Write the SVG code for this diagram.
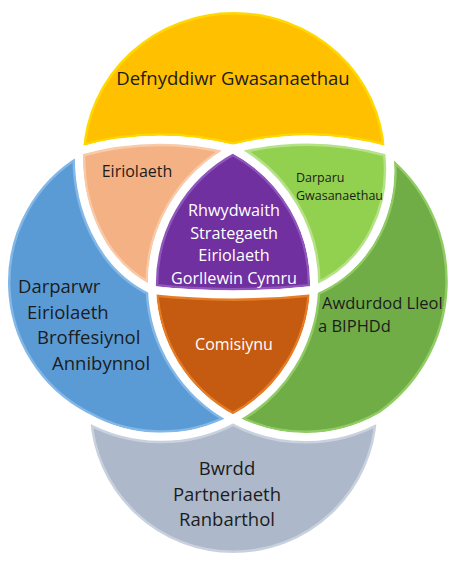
<svg xmlns="http://www.w3.org/2000/svg" width="452" height="563" viewBox="0 0 452 563">
<style>
.gap{fill:none;stroke:#fff;stroke-width:8;stroke-linejoin:round}
.rim{fill:none;stroke-width:13;opacity:0.75}
text{font-family:"Open Sans","Noto Sans",sans-serif}
.dk{fill:#1c1c1c}
.wt{fill:#ffffff}
</style>
<defs>
<path id="pY" d="M79,151 A155,151 0 0 1 234,8 A155,151 0 0 1 389,151 A300,300 0 0 0 233,149 A300,300 0 0 0 79,151 Z"/>
<path id="pPe" d="M79,151 A300,300 0 0 1 233,149 A153,153 0 0 0 152,290 C100,265 77,205 79,151 Z"/>
<path id="pLg" d="M389,151 A300,300 0 0 0 233,149 A153,153 0 0 1 314,290 C372,265 396,205 389,151 Z"/>
<path id="pPu" d="M233,149 A153,153 0 0 0 152,290 A750,750 0 0 0 314,290 A153,153 0 0 0 233,149 Z"/>
<path id="pOr" d="M152,290 A153,153 0 0 0 233,419 A153,153 0 0 0 314,290 A750,750 0 0 1 152,290 Z"/>
<path id="pBl" d="M79,151 C77,205 100,265 152,290 A153,153 0 0 0 233,419 A153,153 0 0 1 86,417 A152,152 0 0 1 79,151 Z"/>
<path id="pGr" d="M389,151 C396,205 372,265 314,290 A153,153 0 0 1 233,419 A153,153 0 0 0 381,417 A166,166 0 0 0 389,151 Z"/>
<path id="pGy" d="M86,417 A153,153 0 0 0 233,419 A153,153 0 0 0 381,417 A147.7,147.7 0 0 1 233.5,557 A147.7,147.7 0 0 1 86,417 Z"/>
<clipPath id="cY"><use href="#pY"/></clipPath>
<clipPath id="cPe"><use href="#pPe"/></clipPath>
<clipPath id="cLg"><use href="#pLg"/></clipPath>
<clipPath id="cPu"><use href="#pPu"/></clipPath>
<clipPath id="cOr"><use href="#pOr"/></clipPath>
<clipPath id="cBl"><use href="#pBl"/></clipPath>
<clipPath id="cGr"><use href="#pGr"/></clipPath>
<clipPath id="cGy"><use href="#pGy"/></clipPath>
</defs>

<g id="yellow">
<use href="#pY" fill="#FFC000"/>
<use href="#pY" class="rim" stroke="#FFE000" clip-path="url(#cY)"/>
<use href="#pY" class="gap"/>
<text class="dk" x="233" y="85" font-size="18.5" text-anchor="middle">Defnyddiwr Gwasanaethau</text>
</g>

<g id="peach">
<use href="#pPe" fill="#F4B183"/>
<use href="#pPe" class="rim" stroke="#FAD3B4" clip-path="url(#cPe)"/>
<use href="#pPe" class="gap"/>
<text class="dk" x="137" y="177" font-size="16" text-anchor="middle">Eiriolaeth</text>
</g>

<g id="purple">
<use href="#pPu" fill="#7030A0"/>
<use href="#pPu" class="rim" stroke="#9A63C4" clip-path="url(#cPu)"/>
<use href="#pPu" class="gap"/>
<text class="wt" font-size="16.2" text-anchor="middle"><tspan x="234" y="216">Rhwydwaith</tspan><tspan x="234" y="238.5">Strategaeth</tspan><tspan x="234" y="261">Eiriolaeth</tspan><tspan x="234" y="283.5">Gorllewin Cymru</tspan></text>
</g>

<g id="orange">
<use href="#pOr" fill="#C55A11"/>
<use href="#pOr" class="rim" stroke="#F08A2E" clip-path="url(#cOr)"/>
<use href="#pOr" class="gap"/>
<text class="wt" x="234" y="350" font-size="16" text-anchor="middle">Comisiynu</text>
</g>

<g id="blue">
<use href="#pBl" fill="#5B9BD5"/>
<use href="#pBl" class="rim" stroke="#8FC0EC" clip-path="url(#cBl)"/>
<use href="#pBl" class="gap"/>
<text class="dk" font-size="18.5"><tspan x="18" y="293">Darparwr</tspan><tspan x="27" y="319">Eiriolaeth</tspan><tspan x="37" y="344">Broffesiynol</tspan><tspan x="52" y="370">Annibynnol</tspan></text>
</g>

<g id="green">
<use href="#pGr" fill="#70AD47"/>
<use href="#pGr" class="rim" stroke="#9CD66E" clip-path="url(#cGr)"/>
<use href="#pGr" class="gap"/>
<text class="dk" font-size="16.5"><tspan x="322" y="309">Awdurdod Lleol</tspan><tspan x="318" y="332">a BIPHDd</tspan></text>
</g>

<g id="lightgreen">
<use href="#pLg" fill="#92D050"/>
<use href="#pLg" class="rim" stroke="#C2E89A" clip-path="url(#cLg)"/>
<use href="#pLg" class="gap"/>
<text class="dk" font-size="12.5"><tspan x="296" y="182">Darparu</tspan><tspan x="296" y="200">Gwasanaethau</tspan></text>
</g>

<g id="grey">
<use href="#pGy" fill="#ADB9CA"/>
<use href="#pGy" class="rim" stroke="#D3DAE4" clip-path="url(#cGy)"/>
<use href="#pGy" class="gap"/>
<text class="dk" font-size="18.5" text-anchor="middle"><tspan x="227" y="475">Bwrdd</tspan><tspan x="227" y="500.5">Partneriaeth</tspan><tspan x="227" y="526">Ranbarthol</tspan></text>
</g>

<g id="connectors"/>
</svg>
